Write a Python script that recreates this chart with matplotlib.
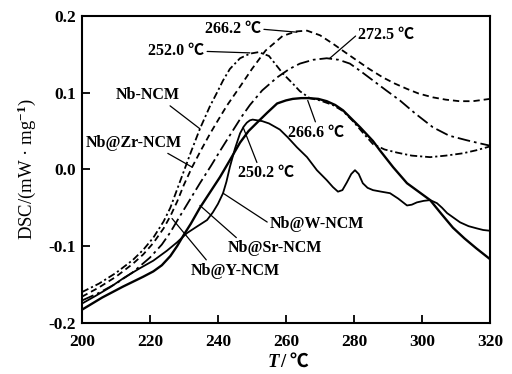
import numpy as np
import matplotlib
matplotlib.use("Agg")
import matplotlib.pyplot as plt

plt.rcParams["font.family"] = ["Liberation Serif", "Noto Sans CJK SC"]
plt.rcParams["font.weight"] = "bold"
plt.rcParams["mathtext.fontset"] = "custom"
plt.rcParams["mathtext.rm"] = "Liberation Serif:bold"
plt.rcParams["mathtext.it"] = "Liberation Serif:bold:italic"
plt.rcParams["mathtext.bf"] = "Liberation Serif:bold"

# ── DATA ──
t_nb = [200, 205, 210, 215, 218, 221, 224, 226, 228, 230, 232, 234.7, 237.6, 239.7,
        241.5, 243.5, 246.5, 249.4, 252, 255, 259.1, 262, 264.1, 267, 270, 273.8, 276.8,
        279.7, 283, 285.6, 289, 292.6, 297, 302.4, 307, 312, 316, 320]
dsc_nb = [-0.160, -0.149, -0.135, -0.118, -0.105, -0.089, -0.068, -0.050, -0.026, -0.002,
          0.022, 0.053, 0.082, 0.100, 0.116, 0.131, 0.145, 0.151, 0.153, 0.148, 0.125,
          0.112, 0.102, 0.093, 0.090, 0.084, 0.076, 0.063, 0.046, 0.033, 0.026, 0.022,
          0.018, 0.016, 0.018, 0.021, 0.025, 0.030]

t_zr = [200, 205, 210, 215, 218, 221, 224, 226, 228, 230, 232.4, 235, 237.6, 240, 242.6,
        246.5, 250, 254, 259, 263, 266.2, 270, 273.8, 277, 280.9, 284.5, 288.5, 292,
        295.6, 299, 303.2, 307, 311, 315, 320]
dsc_zr = [-0.166, -0.154, -0.140, -0.123, -0.111, -0.096, -0.077, -0.061, -0.042, -0.020,
          0.003, 0.025, 0.046, 0.064, 0.083, 0.108, 0.131, 0.155, 0.174, 0.180, 0.181,
          0.175, 0.164, 0.154, 0.142, 0.131, 0.120, 0.112, 0.105, 0.099, 0.094, 0.091,
          0.089, 0.089, 0.092]

t_y = [200, 205, 210, 215, 220, 223.5, 226, 228, 231, 234.7, 238, 240.6, 244, 247, 249.4,
       253, 257.4, 261, 264.1, 268, 272, 275.5, 278.8, 282, 285.6, 289.5, 293.5, 298,
       303.2, 308, 313.2, 317, 320]
dsc_y = [-0.171, -0.161, -0.149, -0.134, -0.115, -0.098, -0.082, -0.067, -0.045, -0.018,
         0.005, 0.024, 0.048, 0.069, 0.084, 0.103, 0.120, 0.131, 0.138, 0.143, 0.145,
         0.143, 0.138, 0.128, 0.116, 0.103, 0.090, 0.073, 0.055, 0.044, 0.038, 0.034,
         0.031]

t_sr = [200, 206, 212, 218, 221, 223.5, 226, 228, 230, 232, 234.7, 237.5, 240.6, 243.5,
        246.5, 249, 251.5, 254.5, 257.4, 260, 262, 264.5, 266.6, 269.5, 272, 274.5, 276.8,
        279.3, 281.8, 283.7, 285.6, 287.6, 291.5, 295.6, 299, 302.4, 305.7, 309.1,
        312.5, 316, 320]
dsc_sr = [-0.183, -0.167, -0.153, -0.140, -0.133, -0.125, -0.113, -0.100, -0.085, -0.071,
          -0.050, -0.031, -0.010, 0.012, 0.035, 0.050, 0.061, 0.074, 0.086, 0.090, 0.092,
          0.093, 0.093, 0.092, 0.089, 0.084, 0.077, 0.066, 0.055, 0.046, 0.037, 0.025,
          0.003, -0.018, -0.029, -0.040, -0.058, -0.076, -0.090, -0.103, -0.117]

t_w = [200, 204, 208.2, 212.5, 217, 221, 225, 228, 230.9, 234, 236.8, 238.5, 240, 241.5,
       242.5, 243.5, 245, 246.5, 247.6, 248.5, 249.4, 250.2, 251.6, 253, 255, 258.2,
       260.5, 263.2, 266.2, 269.1, 272, 273.8, 275.3, 276.6, 277.9, 279.2, 280.3, 281.4,
       282.6, 284, 285.6, 288, 290.6, 293, 295.6, 297, 298.5, 300.5, 302.4, 304.4,
       305.9, 307.4, 309.3, 311.2, 313.7, 316.2, 318, 320]
dsc_w = [-0.175, -0.165, -0.154, -0.141, -0.129, -0.119, -0.106, -0.095, -0.083, -0.074,
         -0.066, -0.056, -0.045, -0.031, -0.016, 0.003, 0.027, 0.047, 0.056, 0.061, 0.064,
         0.065, 0.064, 0.063, 0.060, 0.052, 0.042, 0.029, 0.016, -0.001, -0.014, -0.023,
         -0.029, -0.027, -0.017, -0.006, -0.001, -0.006, -0.018, -0.024, -0.027, -0.029,
         -0.031, -0.038, -0.047, -0.046, -0.043, -0.041, -0.040, -0.044, -0.050, -0.057,
         -0.063, -0.069, -0.074, -0.077, -0.079, -0.080]

# ── PLOT ──
fig = plt.figure(figsize=(5.12, 3.74), dpi=100)
ax = fig.add_axes([0.160, 0.137, 0.797, 0.820])

ax.plot(t_nb, dsc_nb, color="black", lw=1.3, linestyle=(0, (4, 1.6, 1.2, 1.6)))
ax.plot(t_zr, dsc_zr, color="black", lw=1.3, linestyle=(0, (3.5, 2.2)))
ax.plot(t_y, dsc_y, color="black", lw=1.3, linestyle=(0, (7, 2.2, 1.5, 2.2)))
ax.plot(t_sr, dsc_sr, color="black", lw=1.7, linestyle="-")
ax.plot(t_w, dsc_w, color="black", lw=1.3, linestyle="-")

ax.set_xlim(200, 320)
ax.set_ylim(-0.2, 0.2)
ax.set_xticks([200, 220, 240, 260, 280, 300, 320])
ax.set_yticks([-0.2, -0.1, 0.0, 0.1, 0.2])
ax.set_yticklabels(["-0.2", "-0.1", "0.0", "0.1", "0.2"])
ax.tick_params(direction="in", length=6, width=1.3, labelsize=12.5)
ax.tick_params(axis="x", pad=8)
ax.tick_params(axis="y", pad=4)
for s in ax.spines.values():
    s.set_linewidth(1.5)

ax.set_ylabel("DSC/(mW · mg$^{-1}$)", fontsize=13.5, labelpad=8)
# x label: italic T followed by the unit
fig.text(0.545, 0.032, "T", fontsize=13.5, fontweight="bold", style="italic",
         ha="right", va="center")
fig.text(0.547, 0.032, "/ ℃", fontsize=13.5, fontweight="bold",
         ha="left", va="center")

# peak annotations
lw_lead = 0.9
ann = dict(fontsize=11.5, fontweight="bold", va="center")
ax.annotate("266.2 ℃", xy=(263.2, 0.179), xytext=(236.2, 0.183), ha="left",
            arrowprops=dict(arrowstyle="-", lw=lw_lead, shrinkA=0, shrinkB=0,
                            relpos=(1, 0.5)), **ann)
ax.annotate("252.0 ℃", xy=(249.4, 0.152), xytext=(219.5, 0.154), ha="left",
            arrowprops=dict(arrowstyle="-", lw=lw_lead, shrinkA=0, shrinkB=0,
                            relpos=(1, 0.5)), **ann)
ax.annotate("272.5 ℃", xy=(272.9, 0.145), xytext=(281.3, 0.175), ha="left",
            arrowprops=dict(arrowstyle="-", lw=lw_lead, shrinkA=0, shrinkB=0,
                            relpos=(0, 0.6)), **ann)
ax.annotate("266.6 ℃", xy=(266.4, 0.090), xytext=(260.7, 0.048), ha="left",
            arrowprops=dict(arrowstyle="-", lw=lw_lead, shrinkA=0, shrinkB=0,
                            relpos=(0.5, 1.0)), **ann)
ax.annotate("250.2 ℃", xy=(247.4, 0.055), xytext=(246.0, -0.005), ha="left",
            arrowprops=dict(arrowstyle="-", lw=lw_lead, shrinkA=0, shrinkB=0,
                            relpos=(0.35, 1.0)), **ann)

# sample labels
ax.annotate("Nb-NCM", xy=(234.7, 0.053), xytext=(209.8, 0.097), ha="left",
            arrowprops=dict(arrowstyle="-", lw=lw_lead, shrinkA=0, shrinkB=0,
                            relpos=(0.8, 0.0)), **ann)
ax.annotate("Nb@Zr-NCM", xy=(232.4, 0.003), xytext=(201.2, 0.035), ha="left",
            arrowprops=dict(arrowstyle="-", lw=lw_lead, shrinkA=0, shrinkB=0,
                            relpos=(0.8, 0.0)), **ann)
ax.annotate("Nb@W-NCM", xy=(241.5, -0.031), xytext=(255.3, -0.071), ha="left",
            arrowprops=dict(arrowstyle="-", lw=lw_lead, shrinkA=0, shrinkB=0,
                            relpos=(0.0, 0.5)), **ann)
ax.annotate("Nb@Sr-NCM", xy=(234.7, -0.047), xytext=(243.0, -0.103), ha="left",
            arrowprops=dict(arrowstyle="-", lw=lw_lead, shrinkA=0, shrinkB=0,
                            relpos=(0.12, 1.0)), **ann)
ax.annotate("Nb@Y-NCM", xy=(226.5, -0.064), xytext=(232.0, -0.132), ha="left",
            arrowprops=dict(arrowstyle="-", lw=lw_lead, shrinkA=0, shrinkB=0,
                            relpos=(0.2, 1.0)), **ann)

fig.savefig("out.png", dpi=100, facecolor="white")
